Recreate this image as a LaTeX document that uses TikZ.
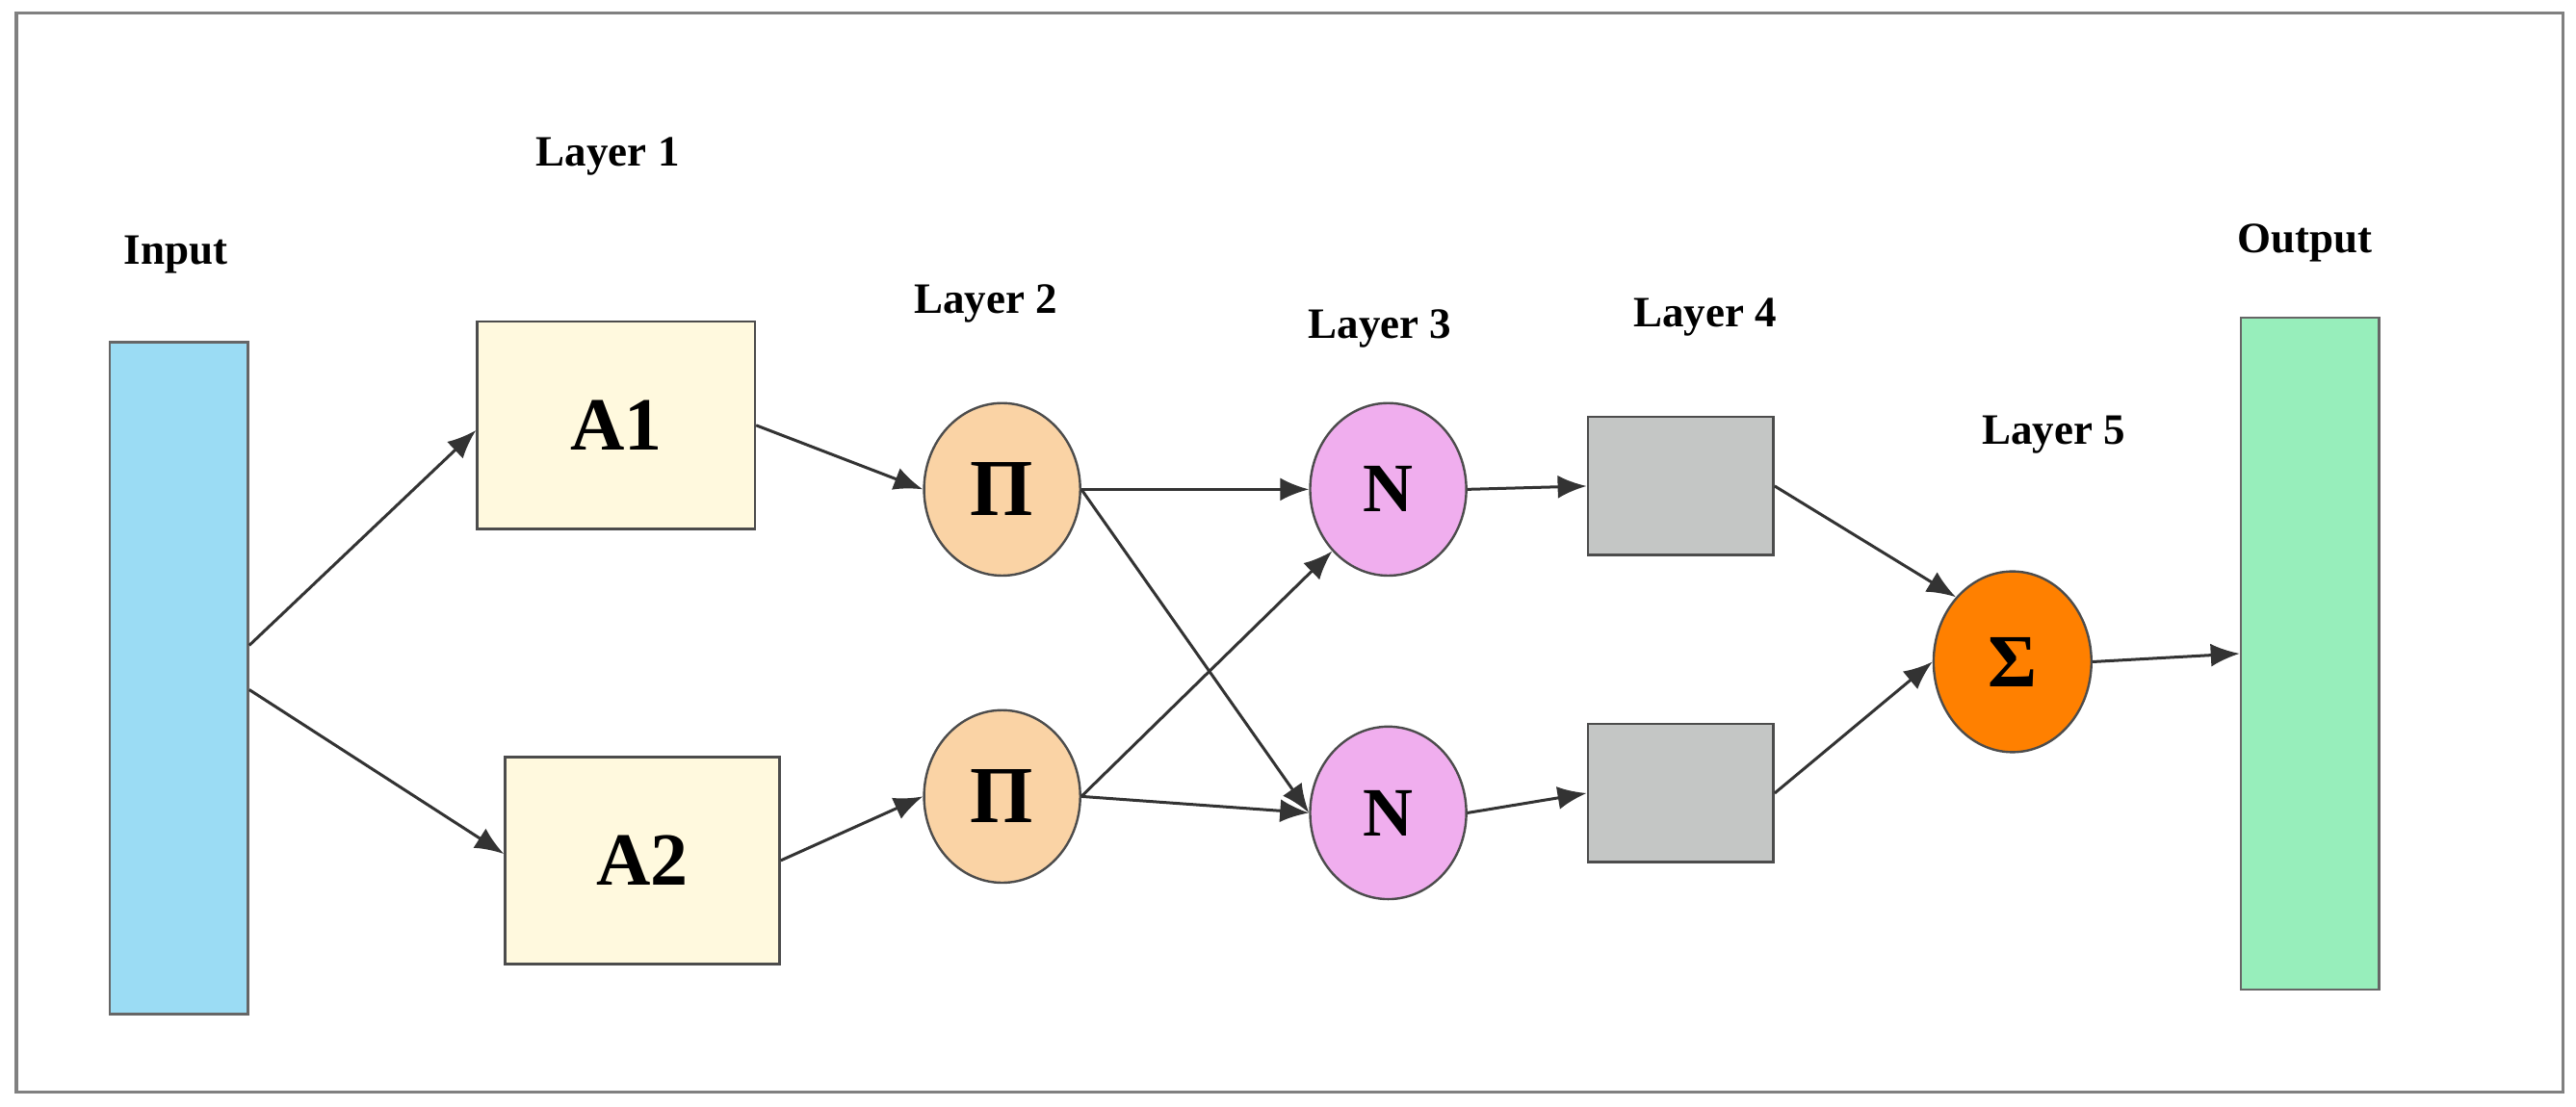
\documentclass[tikz,border=0pt]{standalone}
\usepackage{fontspec}
\setmainfont{Liberation Serif}
\usetikzlibrary{arrows.meta, shapes.geometric}
\definecolor{inblue}{HTML}{9BDCF4}
\definecolor{outgreen}{HTML}{97EEBB}
\definecolor{boxyel}{HTML}{FFF9DE}
\definecolor{pinode}{HTML}{FAD3A5}
\definecolor{nnode}{HTML}{F0AEEE}
\definecolor{graybox}{HTML}{C4C6C5}
\definecolor{signode}{HTML}{FF8000}
\begin{document}
\begin{tikzpicture}[x=0.01cm, y=-0.01cm,
  lbl/.style={font=\bfseries\fontsize{7.5}{9}\selectfont},
  bar/.style={draw=black!60, rectangle, minimum width=0.84cm, minimum height=4.09cm},
  abox/.style={draw=black!70, fill=boxyel, rectangle, minimum width=1.69cm, minimum height=1.26cm, font=\bfseries\fontsize{13}{15}\selectfont},
  gbox/.style={draw=black!70, fill=graybox, rectangle, minimum width=1.13cm, minimum height=0.84cm},
  circ/.style={draw=black!70, ellipse, minimum width=0.95cm, minimum height=1.05cm, inner sep=0pt},
  arr/.style={-{Latex[length=5pt,width=4pt]}, black!80, line width=0.5pt}]
\useasboundingbox (0,0) rectangle (1568,674);
\draw[black!50, line width=0.6pt] (10,8) rectangle (1560,665);
% bars
\node[bar, fill=inblue] (in) at (109,413) {};
\node[bar, fill=outgreen] (out) at (1406,398) {};
% layer 1
\node[abox] (a1) at (375,259) {A1};
\node[abox, minimum width=1.67cm] (a2) at (391,524) {A2};
% layer 2
\node[circ, fill=pinode, font=\bfseries\fontsize{14}{16}\selectfont] (p1) at (610,298) {Π};
\node[circ, fill=pinode, font=\bfseries\fontsize{14}{16}\selectfont] (p2) at (610,485) {Π};
% layer 3
\node[circ, fill=nnode, font=\bfseries\fontsize{12}{14}\selectfont] (n1) at (845,298) {N};
\node[circ, fill=nnode, font=\bfseries\fontsize{12}{14}\selectfont] (n2) at (845,495) {N};
% layer 4
\node[gbox] (g1) at (1023,296) {};
\node[gbox] (g2) at (1023,483) {};
% layer 5
\node[circ, fill=signode, minimum width=0.96cm, minimum height=1.1cm, font=\bfseries\fontsize{13}{15}\selectfont] (s) at (1225,403) {Σ};
% labels
\node[lbl] (tin) at (107,155) {Input};
\node[lbl] (t1) at (370,95) {Layer 1};
\node[lbl] (t2) at (600,185) {Layer 2};
\node[lbl] (t3) at (840,200) {Layer 3};
\node[lbl] (t4) at (1038,193) {Layer 4};
\node[lbl] (t5) at (1250,265) {Layer 5};
\node[lbl] (tout) at (1403,148) {Output};
% connectors
\draw[arr] ([yshift=0.2cm]in.east) -- ([yshift=-0.03cm]a1.west);
\draw[arr] ([yshift=-0.07cm]in.east) -- ([yshift=0.04cm]a2.west);
\draw[arr] (a1.east) -- (p1.west);
\draw[arr] (a2.east) -- (p2.west);
\draw[arr] (p1.east) -- (n1.west);
\draw[arr] (p1.east) -- (n2.west);
\draw[arr] (p2.east) -- (n1.south west);
\draw[arr] (p2.east) -- (n2.west);
\draw[arr] (n1.east) -- (g1.west);
\draw[arr] (n2.east) -- (g2.west);
\draw[arr] (g1.east) -- (s.north west);
\draw[arr] (g2.east) -- (s.west);
\draw[arr] (s.east) -- (out.west);
\end{tikzpicture}
\end{document}
